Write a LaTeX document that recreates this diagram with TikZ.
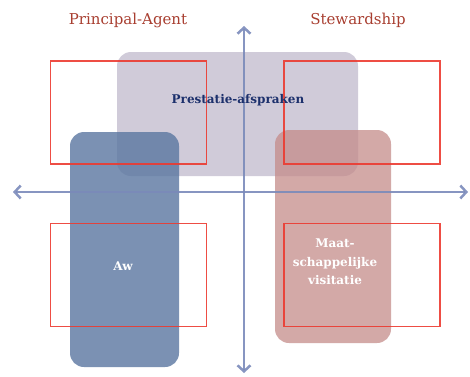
\documentclass[tikz,border=0pt]{standalone}
\usepackage{fontspec}
\setmainfont{DejaVu Serif}
\usetikzlibrary{arrows.meta}
\definecolor{axiscol}{RGB}{122,138,186}
\definecolor{redline}{RGB}{236,58,48}
\definecolor{titlecol}{RGB}{168,62,48}
\definecolor{graybox}{RGB}{196,190,208}
\definecolor{bluebox}{RGB}{90,118,160}
\definecolor{pinkbox}{RGB}{196,140,138}
\definecolor{darkblue}{RGB}{28,48,108}
\tikzset{
  quad/.style={draw=redline, line width=1.5pt},
  softbox/.style={rounded corners=14pt, draw=none},
  axis/.style={draw=axiscol, line width=2.5pt, {Straight Barb[length=6pt,width=13pt,line width=2.5pt]}-{Straight Barb[length=6pt,width=13pt,line width=2.5pt]}},
  title/.style={text=titlecol, font=\fontsize{15}{17}\selectfont},
  boxtext/.style={font=\bfseries\fontsize{12}{18.5}\selectfont, align=center}
}
\begin{document}
\begin{tikzpicture}[x=1pt,y=-1pt]
\useasboundingbox (0,0) rectangle (470,376);
% soft boxes
\path[softbox, fill=graybox, fill opacity=0.8] (117,52) rectangle (358,176);
\path[softbox, fill=bluebox, fill opacity=0.8] (70,132) rectangle (179,367);
\path[softbox, fill=pinkbox, fill opacity=0.75] (275,130) rectangle (391,343);
% red quadrant rectangles
\node[quad, draw opacity=0.9, minimum width=156pt, minimum height=103pt, inner sep=0pt] (tl) at (128.5,112.5) {};
\node[quad, draw opacity=0.9, minimum width=156pt, minimum height=103pt, inner sep=0pt] (tr) at (362,112.5) {};
\node[quad, draw opacity=0.9, minimum width=156pt, minimum height=103pt, inner sep=0pt] (bl) at (128.5,275) {};
\node[quad, draw opacity=0.9, minimum width=156pt, minimum height=103pt, inner sep=0pt] (br) at (362,275) {};
% axes
\coordinate (top) at (244,26);
\coordinate (bottom) at (244,373);
\coordinate (left) at (13,192);
\coordinate (right) at (468,192);
\draw[axis, draw opacity=0.9] (top) -- (bottom);
\draw[axis, draw opacity=0.9] (left) -- (right);
% titles
\node[title] (pa) at (128,20) {Principal-Agent};
\node[title] (sw) at (358,20) {Stewardship};
% box texts
\node[boxtext, text=darkblue] (pr) at (238,100) {Prestatie-afspraken};
\node[boxtext, text=white] (aw) at (123,266) {Aw};
\node[boxtext, text=white] (mv) at (335,262) {Maat-\\schappelijke\\visitatie};
\end{tikzpicture}
\end{document}
